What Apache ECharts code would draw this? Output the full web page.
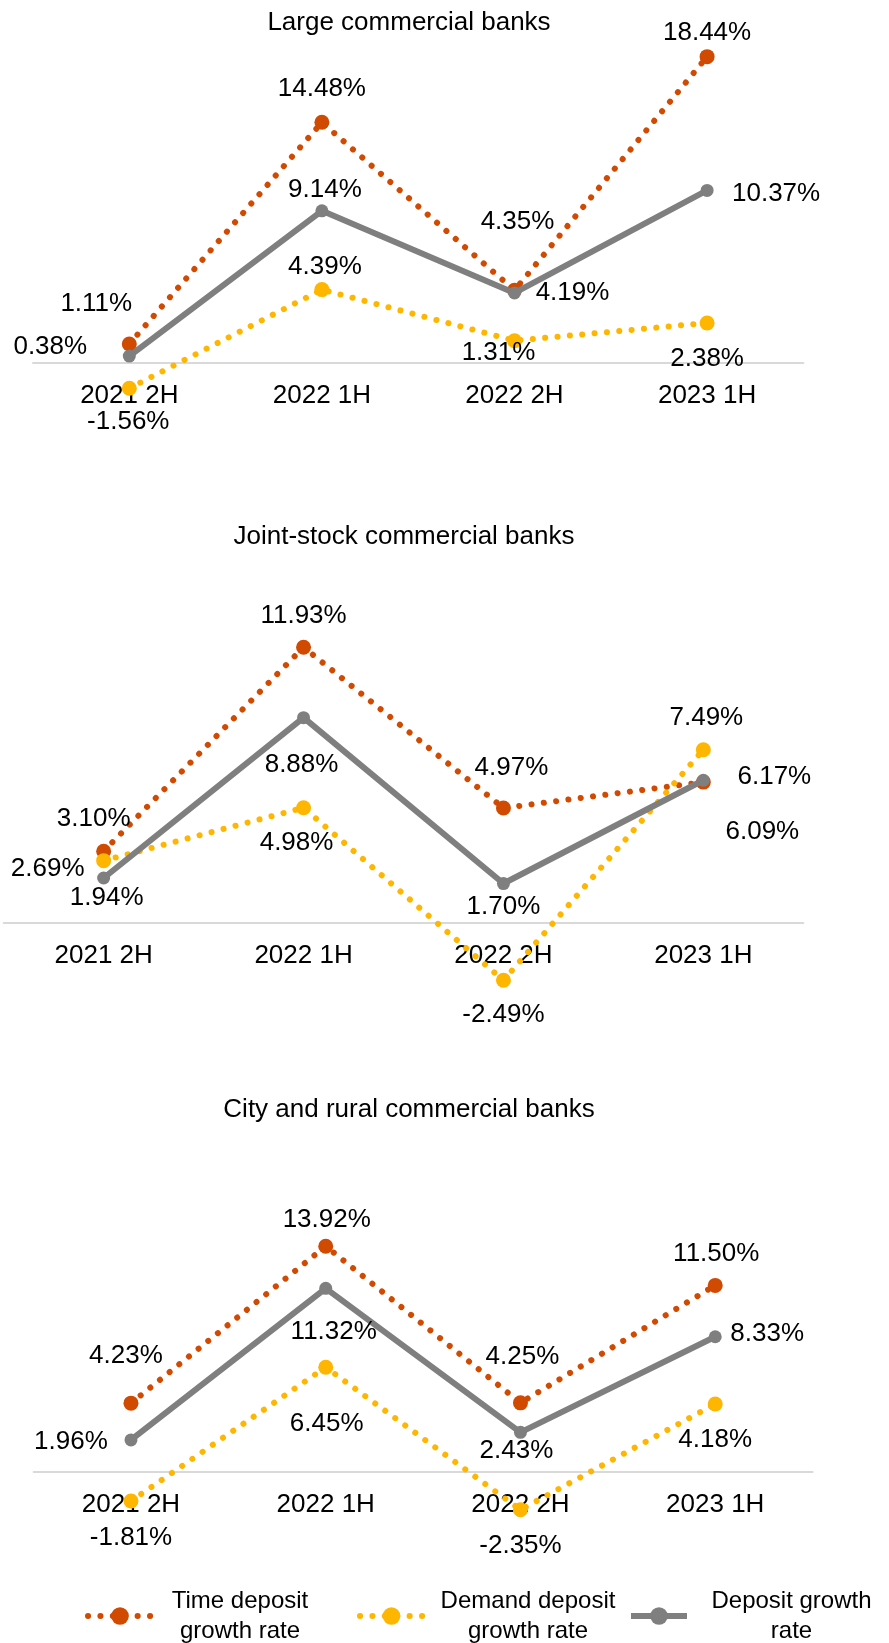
<!DOCTYPE html>
<html>
<head>
<meta charset="utf-8">
<title>Deposit growth by bank type</title>
<script src="https://cdn.jsdelivr.net/npm/echarts@6/dist/echarts.min.js"></script>
<style>
  html, body { margin: 0; padding: 0; background: #fff; }
  #chart { width: 889px; height: 1643px; }
</style>
</head>
<body>
<div id="chart"></div>
<script>
// ---- data ----
const categories = ['2021 2H', '2022 1H', '2022 2H', '2023 1H'];
const seriesNames = ['Time deposit growth rate', 'Demand deposit growth rate', 'Deposit growth rate'];
const panelTitles = ['Large commercial banks', 'Joint-stock commercial banks', 'City and rural commercial banks'];

const largeTime   = [1.11, 14.48, 4.35, 18.44];
const largeDemand = [-1.56, 4.39, 1.31, 2.38];
const largeTotal  = [0.38, 9.14, 4.19, 10.37];

const jointTime   = [3.10, 11.93, 4.97, 6.09];
const jointDemand = [2.69, 4.98, -2.49, 7.49];
const jointTotal  = [1.94, 8.88, 1.70, 6.17];

const cityTime    = [4.23, 13.92, 4.25, 11.50];
const cityDemand  = [-1.81, 6.45, -2.35, 4.18];
const cityTotal   = [1.96, 11.32, 2.43, 8.33];

// ---- styling ----
const FONT = '"Liberation Sans", Arial, Helvetica, sans-serif';
const COLORS = ['#D04A02', '#FFB600', '#7F7F7F'];

// layout of the three stacked panels (grid bottom = the 0% line, negatives drawn below it unclipped),
// and where each value label sits relative to its point
const panels = [
  {
    title: panelTitles[0], titleX: 409, titleTop: 10,
    grid: { left: 33, width: 770.4, top: 30.8, height: 331.6 }, yMin: 0, yMax: 20,
    values: [largeTime, largeDemand, largeTotal],
    offsets: [
      [[-33, -40], [0, -33], [3, -68], [0, -24]],
      [[-1, 34], [3, -23], [-16, 12], [0, 36]],
      [[-79, -9], [3, -21], [58, 0], [69, 3]]
    ]
  },
  {
    title: panelTitles[1], titleX: 404, titleTop: 524,
    grid: { left: 3.7, width: 799.6, top: 599.4, height: 323.4 }, yMin: 0, yMax: 14,
    values: [jointTime, jointDemand, jointTotal],
    offsets: [
      [[-10, -32], [0, -31], [8, -40], [59, 50]],
      [[-56, 8], [-7, 35], [0, 35], [3, -32]],
      [[3, 20], [-2, 47], [0, 23], [71, -3]]
    ]
  },
  {
    title: panelTitles[2], titleX: 409, titleTop: 1097,
    grid: { left: 33.6, width: 779, top: 1212.5, height: 259.2 }, yMin: 0, yMax: 16,
    values: [cityTime, cityDemand, cityTotal],
    offsets: [
      [[-5, -47], [1, -26], [2, -46], [1, -32]],
      [[0, 37], [1, 57], [0, 36], [0, 36]],
      [[-60, 2], [8, 44], [-4, 18], [52, -3]]
    ]
  }
];

const lineStyles = [
  { color: COLORS[0], width: 6, type: [0.1, 12.3], cap: 'round' },
  { color: COLORS[1], width: 6, type: [0.1, 12.3], cap: 'round' },
  { color: COLORS[2], width: 6, type: 'solid', cap: 'butt' }
];
const symbolSizes = [15, 15, 13];

const grids = [], xAxes = [], yAxes = [], titles = [], series = [];

panels.forEach((p, gi) => {
  grids.push(Object.assign({ containLabel: false }, p.grid));
  titles.push({
    text: p.title, left: p.titleX, top: p.titleTop, textAlign: 'center', padding: 0,
    textStyle: { fontFamily: FONT, fontSize: 26, fontWeight: 'normal', color: '#000', lineHeight: 26 }
  });
  xAxes.push({
    type: 'category', gridIndex: gi, data: categories, boundaryGap: true, position: 'bottom',
    axisLine: { show: true, onZero: false, lineStyle: { color: '#D9D9D9', width: 2 } },
    axisTick: { show: false },
    axisLabel: { fontFamily: FONT, fontSize: 26, color: '#000', margin: 20, lineHeight: 26 },
    splitLine: { show: false }
  });
  yAxes.push({
    type: 'value', gridIndex: gi, min: p.yMin, max: p.yMax, show: false, splitLine: { show: false }
  });
  p.values.forEach((vals, si) => {
    series.push({
      name: seriesNames[si], type: 'line', xAxisIndex: gi, yAxisIndex: gi, clip: false,
      symbol: 'circle', symbolSize: symbolSizes[si], showSymbol: true, showAllSymbol: true,
      lineStyle: lineStyles[si],
      itemStyle: { color: COLORS[si] },
      z: 2 + si,
      label: {
        show: true, position: 'inside', fontFamily: FONT, fontSize: 26, color: '#000',
        formatter: (d) => d.value.toFixed(2) + '%'
      },
      emphasis: { disabled: true },
      data: vals.map((v, i) => ({ value: v, label: { offset: p.offsets[si][i] } }))
    });
  });
});

// one legend per entry so each two-line caption can be centred under itself
const legendTexts = [['Time deposit', 'growth rate'], ['Demand deposit', 'growth rate'], ['Deposit growth', 'rate']];
const legendBoxes = [
  { left: 85, itemWidth: 64, textWidth: 166 },
  { left: 357, itemWidth: 63, textWidth: 200 },
  { left: 628, itemWidth: 56, textWidth: 199 }
];
const legends = legendBoxes.map((b, i) => ({
  data: [seriesNames[i]], left: b.left, top: 1589, padding: 0, orient: 'horizontal',
  itemWidth: b.itemWidth, itemHeight: 22, selectedMode: false,
  lineStyle: Object.assign({}, lineStyles[i]),
  formatter: () => '{t|' + legendTexts[i][0] + '}\n{t|' + legendTexts[i][1] + '}',
  textStyle: {
    fontFamily: FONT, fontSize: 24, color: '#000',
    rich: { t: { fontFamily: FONT, fontSize: 24, color: '#000', lineHeight: 30, width: b.textWidth, align: 'center' } }
  }
}));

const chart = echarts.init(document.getElementById('chart'), null, { renderer: 'canvas' });
chart.setOption({
  animation: false,
  backgroundColor: '#fff',
  title: titles,
  legend: legends,
  grid: grids,
  xAxis: xAxes,
  yAxis: yAxes,
  series: series
});
</script>
</body>
</html>
